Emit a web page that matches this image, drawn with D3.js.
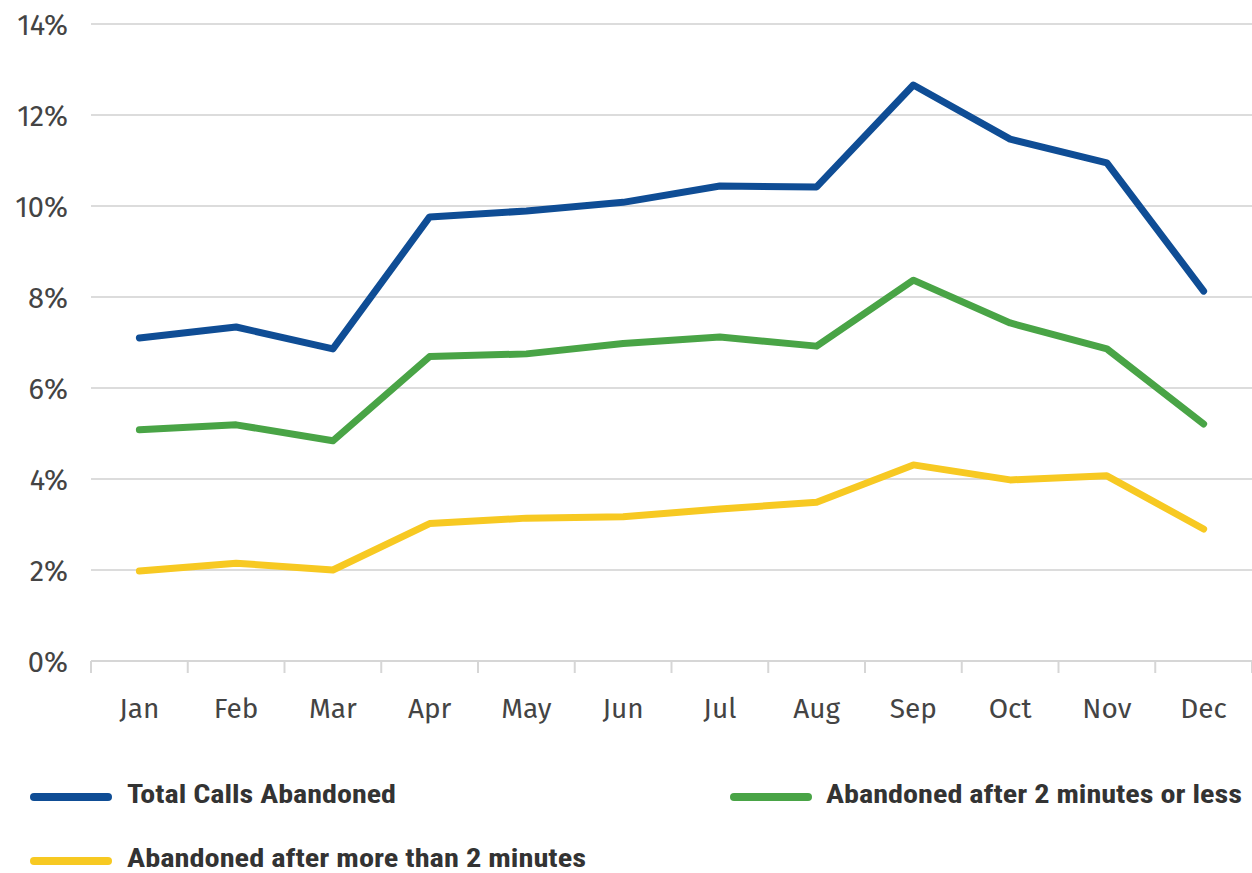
<!DOCTYPE html>
<html>
<head>
<meta charset="utf-8">
<script src="https://cdn.jsdelivr.net/npm/d3@7"></script>
<style>
  html, body { margin: 0; padding: 0; background: #fff; }
  svg { display: block; }
</style>
</head>
<body>
<svg id="chart" width="1252" height="873"></svg>
<script>
const months = ["Jan","Feb","Mar","Apr","May","Jun","Jul","Aug","Sep","Oct","Nov","Dec"];
const totalAbandoned = [7.10, 7.34, 6.86, 9.76, 9.89, 10.08, 10.44, 10.42, 12.66, 11.47, 10.95, 8.13];
const under2min = [5.08, 5.19, 4.84, 6.69, 6.75, 6.98, 7.12, 6.92, 8.37, 7.43, 6.86, 5.21];
const over2min = [1.98, 2.15, 2.00, 3.02, 3.14, 3.17, 3.34, 3.49, 4.31, 3.98, 4.07, 2.90];
const yTicks = [0, 2, 4, 6, 8, 10, 12, 14];
const seriesNames = ["Total Calls Abandoned", "Abandoned after 2 minutes or less", "Abandoned after more than 2 minutes"];
const seriesColors = ["#0f4d95", "#49a446", "#f7c922"];

const series = [
  { name: seriesNames[0], values: totalAbandoned, color: seriesColors[0] },
  { name: seriesNames[1], values: under2min, color: seriesColors[1] },
  { name: seriesNames[2], values: over2min, color: seriesColors[2] }
];

const svg = d3.select("#chart");
const tickFont = "'Fira Sans', 'Open Sans', 'Noto Sans', sans-serif";

const x = d3.scaleBand().domain(months).range([91, 1252]).padding(0);
const y = d3.scaleLinear().domain([0, 14]).range([661, 24]);

// gridlines
svg.append("g")
  .selectAll("line")
  .data(yTicks.filter(d => d > 0))
  .join("line")
  .attr("x1", 91).attr("x2", 1252)
  .attr("y1", d => y(d)).attr("y2", d => y(d))
  .attr("stroke", "#dcdcdc").attr("stroke-width", 2);

// y axis labels
const yAxis = d3.axisLeft(y).tickValues(yTicks).tickFormat(d => d + "%").tickSize(0).tickPadding(0);
const yg = svg.append("g").attr("transform", "translate(68,0)").call(yAxis);
yg.select(".domain").remove();
yg.selectAll("text")
  .attr("font-family", tickFont).attr("font-size", 29).attr("fill", "#444")
  .attr("dy", "0.36em");

// x axis
const xAxis = d3.axisBottom(x).tickSize(0).tickPadding(0);
const xg = svg.append("g").attr("transform", `translate(0,${y(0)})`).call(xAxis);
xg.select(".domain").attr("stroke", "#d6d6d6").attr("stroke-width", 2)
  .attr("d", `M91,0H1252`);
xg.selectAll("text")
  .attr("font-family", tickFont).attr("font-size", 28).attr("fill", "#444")
  .attr("y", 57).attr("dy", 0);
// boundary ticks
const bounds = months.map(m => x(m)).concat([x(months[11]) + x.bandwidth()]);
xg.append("g").selectAll("line")
  .data(bounds)
  .join("line")
  .attr("x1", d => d).attr("x2", d => d)
  .attr("y1", 0).attr("y2", 12)
  .attr("stroke", "#d6d6d6").attr("stroke-width", 2);

// lines
const line = d3.line()
  .x((d, i) => x(months[i]) + x.bandwidth() / 2)
  .y(d => y(d));

svg.append("g")
  .selectAll("path")
  .data(series)
  .join("path")
  .attr("d", d => line(d.values))
  .attr("fill", "none")
  .attr("stroke", d => d.color)
  .attr("stroke-width", 7)
  .attr("stroke-linejoin", "round")
  .attr("stroke-linecap", "round");

// legend
const legendPos = [
  { lx: 34, ly: 797, tx: 127, w: 269 },
  { lx: 734, ly: 797, tx: 826, w: 416 },
  { lx: 34, ly: 861, tx: 127, w: 459 }
];
const lg = svg.append("g");
series.forEach((s, i) => {
  const p = legendPos[i];
  lg.append("line")
    .attr("x1", p.lx).attr("x2", p.lx + 74)
    .attr("y1", p.ly).attr("y2", p.ly)
    .attr("stroke", s.color).attr("stroke-width", 8).attr("stroke-linecap", "round");
  lg.append("text")
    .attr("x", p.tx).attr("y", p.ly + 6)
    .attr("font-family", "'Liberation Sans Narrow', 'Arial Narrow', 'Roboto Condensed', sans-serif")
    .attr("font-weight", "bold")
    .attr("font-size", 26)
    .attr("fill", "#333")
    .attr("textLength", p.w)
    .attr("lengthAdjust", "spacingAndGlyphs")
    .text(s.name);
});
</script>
</body>
</html>
